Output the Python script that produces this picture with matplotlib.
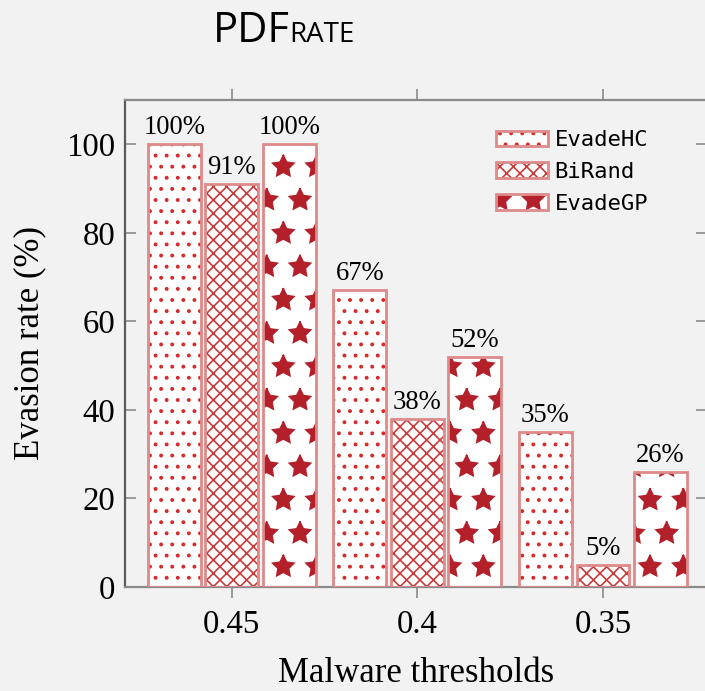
import matplotlib
matplotlib.use('Agg')
import numpy as np
import matplotlib.pyplot as plt

# данные с картинки
thresholds = ['0.45', '0.4', '0.35']
methods = ['EvadeHC', 'BiRand', 'EvadeGP']
evadehc = [100, 67, 35]
birand = [91, 38, 5]
evadegp = [100, 52, 26]

values = [evadehc, birand, evadegp]
hatches = ['...', 'xxxxx', '*']
hatch_colors = ['#d42a2a', '#cc3b3b', '#b3202a']
outline = '#de8a8a'
bg = '#f2f2f2'
grey = '#8a8a8a'

plt.rcParams['hatch.linewidth'] = 0.6

# dpi 200 -> плитка штриховки 200 px, звёзды идут с шагом ~33 px
fig = plt.figure(figsize=(7.05 / 2, 6.91 / 2), dpi=200, facecolor=bg)
ax = fig.add_axes([125 / 705, (691 - 587) / 691, 582 / 705, 487 / 691])
ax.set_facecolor(bg)

x = np.arange(len(thresholds))
offsets = [-0.31, 0.0, 0.31]
width = 0.285

handles = []
for i in range(3):
    b = ax.bar(x + offsets[i], values[i], width, color='white',
               edgecolor=hatch_colors[i], linewidth=0, hatch=hatches[i], zorder=2)
    o = ax.bar(x + offsets[i], values[i], width, fill=False,
               edgecolor=outline, linewidth=1.0, zorder=3)
    ax.bar_label(o, labels=[f'{v}%' for v in values[i]], padding=1.5,
                 fontsize=9.6, family='Liberation Serif')
    handles.append((b.patches[0], o.patches[0]))

ax.set_xlim(-0.575, 2.56)
ax.set_ylim(0, 110)
ax.set_xticks(x)
ax.set_xticklabels(thresholds)
ax.set_yticks(np.arange(0, 101, 20))

for s in ax.spines.values():
    s.set_color(grey)
    s.set_linewidth(0.8)
ax.spines['left'].set_color('#5a5a5a')

ax.tick_params(axis='x', direction='out', top=True, length=4, width=0.6,
               color=grey, pad=4, labelsize=11.8)
ax.tick_params(axis='y', direction='in', right=True, length=4, width=0.6,
               color=grey, pad=3.5, labelsize=11.8)
for lab in ax.get_xticklabels() + ax.get_yticklabels():
    lab.set_family('Liberation Serif')

ax.set_xlabel('Malware thresholds', fontsize=12.5, family='Liberation Serif')
ax.set_ylabel('Evasion rate (%)', fontsize=12.5, family='Liberation Serif')
ax.xaxis.set_label_coords(0.5, -0.144)
ax.yaxis.set_label_coords(-0.135, 0.5)

leg = ax.legend(handles, methods, loc='upper left', bbox_to_anchor=(0.637, 0.938),
                frameon=False, borderpad=0, borderaxespad=0,
                handlelength=2.34, handleheight=0.72, handletextpad=0.3,
                labelspacing=0.53, prop={'family': 'DejaVu Sans Mono', 'size': 8})

fig.text(213 / 705, 1 - 42 / 691, 'PDF', fontsize=15, family='Open Sans',
         ha='left', va='baseline')
fig.text(289 / 705, 1 - 42 / 691, 'RATE', fontsize=10, family='Open Sans',
         ha='left', va='baseline')

fig.savefig('out.png', dpi=200, facecolor=bg)
